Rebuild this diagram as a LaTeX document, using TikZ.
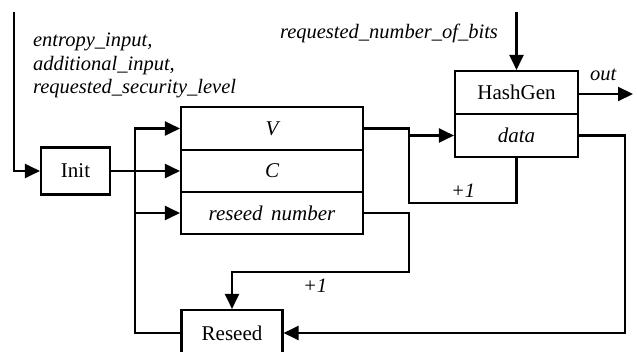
\documentclass[tikz,border=0pt]{standalone}
\usepackage{fontspec}
\setmainfont{Liberation Serif}
\usetikzlibrary{arrows.meta}
\begin{document}
\begin{tikzpicture}[x=1pt,y=-1pt,
  line width=2.1pt,
  every node/.style={font=\fontsize{21}{24}\selectfont},
  box/.style={draw,rectangle,inner sep=0pt,line width=2.1pt},
  itbox/.style={box,font=\fontsize{21}{24}\selectfont\itshape},
  lbl/.style={inner sep=0pt,anchor=base west,font=\fontsize{20.5}{24}\selectfont\itshape},
  arr/.style={-{Triangle[length=15pt,width=14pt]}}]
\clip (0,0) rectangle (637,351);
% boxes
\node[box,minimum width=69pt,minimum height=47pt] (init) at (75.5,171) {Init};
\node[itbox,minimum width=182pt,minimum height=43pt] (V) at (272,128.5) {V};
\node[itbox,minimum width=182pt,minimum height=42pt] (C) at (272,171) {C};
\node[itbox,minimum width=182pt,minimum height=42pt] (rn) at (272,213) {reseed\hspace{0.4em}number};
\node[box,minimum width=123pt,minimum height=43pt] (hash) at (516.5,92.5) {HashGen};
\node[itbox,minimum width=123pt,minimum height=43pt] (data) at (516.5,135.5) {data};
\node[box,minimum width=101pt,minimum height=46pt] (reseed) at (232,333) {Reseed};
% labels
\node[lbl] (l1) at (32,46) {entropy\_input,};
\node[lbl] (l2) at (32,70) {additional\_input,};
\node[lbl] (l3) at (32,93) {requested\_security\_level};
\node[lbl] (l4) at (279,38) {requested\_number\_of\_bits};
\node[lbl] (lout) at (589,80) {out};
\node[lbl] (p1) at (450,197) {+1};
\node[lbl] (p2) at (302,292) {+1};
% coordinates
\coordinate (tl) at (14,12);
\coordinate (j) at (135,171);
\coordinate (k) at (409,135.5);
\coordinate (kb) at (409,203);
\coordinate (tt) at (516.5,12);
\coordinate (o) at (633,94);
\coordinate (dr) at (625,333);
\coordinate (rr) at (409,272);
% connectors
\draw[arr] (tl) |- (init.west);
\draw[arr] (init.east) -- (C.west);
\draw[arr] (j) |- (V.west);
\draw[arr] (j) |- (rn.west);
\draw (j) |- (reseed.west);
\draw (V.east) -| (k);
\draw[arr] (k) -- (data.west);
\draw (k) -- (kb) -| (data.south);
\draw[arr] (tt) -- (hash.north);
\draw[arr] (hash.east |- o) -- (o);
\draw[arr] (data.east) -| (dr) -- (reseed.east);
\draw[arr] (rn.east) -| (rr) -| (reseed.north);
\end{tikzpicture}
\end{document}
